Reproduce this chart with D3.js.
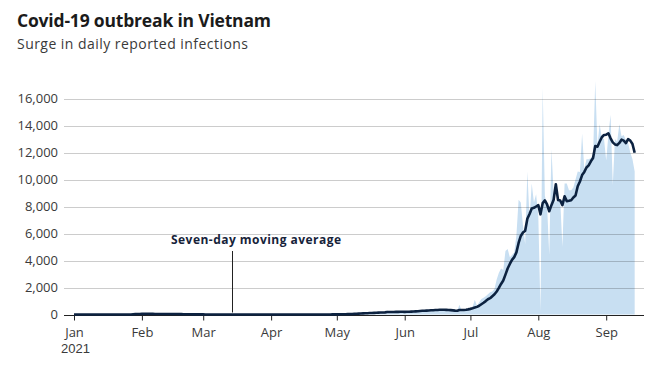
<!DOCTYPE html>
<html>
<head>
<meta charset="utf-8">
<script src="https://cdn.jsdelivr.net/npm/d3@7"></script>
<style>
  body { margin: 0; background: #fff; }
  svg { display: block; font-family: "Open Sans", "Noto Sans", sans-serif; }
</style>
</head>
<body>
<svg id="chart" width="649" height="370"></svg>
<script>
// Daily reported infections, Jan 1 - Sep 14 2021
var jan = [1,2,0,3,2,1,5,2,1,0,2,3,1,1,2,1,3,0,1,2,1,1,2,3,1,2,2,84,75,50,40];
var feb = [35,40,50,30,45,35,40,25,30,55,40,35,30,20,15,60,30,20,15,10,12,8,10,5,6,9,4,3];
var mar = [5,3,2,6,4,3,2,4,3,5,2,3,1,4,2,3,5,2,4,3,6,2,3,4,5,2,3,4,1,2,3];
var apr = [2,5,3,2,4,6,3,2,5,4,3,2,4,6,3,2,5,4,3,5,2,4,3,2,5,8,6,4,10,12];
var may = [10,15,20,25,30,45,55,60,70,80,90,95,110,105,120,130,140,135,150,160,155,165,170,300,180,160,175,190,185,200,210];
var jun = [190,230,250,240,270,260,280,300,310,290,320,330,350,340,360,370,380,340,330,300,290,260,250,240,270,720,280,330,380,440];
var jul = [500,560,1090,650,900,1150,1250,1350,1500,1650,1700,1900,2600,3100,3400,3300,4700,4850,4250,4400,4600,5850,8500,8300,6600,5200,10600,7100,9700,8300,8900];
var aug = [7300,200,16800,8800,8050,4400,12250,9000,8300,8600,8500,5000,9700,9700,9200,9200,9400,10000,10600,10550,13400,10800,11500,11500,11600,11800,17300,12500,14100,13100,13000];
var sep = [11400,13300,14800,9600,13000,12800,14100,13200,13300,12900,12700,12000,11500,10600];

// Seven-day moving average
var janAvg = [1,1,1,2,2,2,2,2,2,2,2,2,2,2,2,2,2,2,2,2,2,2,2,2,2,2,2,14,25,32,38];
var febAvg = [43,48,53,51,46,43,41,40,39,40,39,38,36,34,30,35,34,30,26,21,20,19,14,11,10,10,8,6];
var marAvg = [6,5,5,5,4,4,3,4,4,4,3,3,3,3,3,3,3,3,3,3,3,4,4,4,4,3,3,3,3,3,3];
var aprAvg = [3,3,3,3,3,3,4,4,4,4,4,4,4,4,4,4,4,4,4,4,4,4,4,4,4,5,5,5,6,7];
var mayAvg = [9,11,13,16,20,26,31,39,47,55,64,72,82,90,98,106,115,122,130,138,144,151,156,181,184,185,189,194,198,204,207];
var junAvg = [195,200,208,215,225,235,246,261,273,279,290,299,311,320,329,337,350,353,353,346,339,324,307,287,277,333,330,336,353,380];
var julAvg = [417,459,511,564,646,756,871,993,1127,1207,1357,1500,1707,1971,2264,2521,2957,3407,3743,4050,4250,4600,5300,5820,6070,6210,7090,7450,7850,7900,8000];
var augAvg = [8100,7420,8250,8450,8150,7650,8100,8500,9650,8480,8440,8100,8760,8400,8420,8460,8670,8820,9500,9850,10330,10560,10890,11050,11350,11590,12480,12430,12800,13130,13300];
var sepAvg = [13320,13420,13050,12750,12600,12550,12710,12950,12880,12700,12990,12880,12630,11980];

var yTicks = [0, 2000, 4000, 6000, 8000, 10000, 12000, 14000, 16000];
var monthLabels = ["Jan", "Feb", "Mar", "Apr", "May", "Jun", "Jul", "Aug", "Sep"];
var yearLabel = "2021";
var annotationText = "Seven-day moving average";
var annotationDate = new Date(2021, 2, 14);

var daily = [].concat(jan, feb, mar, apr, may, jun, jul, aug, sep);
var average = [].concat(janAvg, febAvg, marAvg, aprAvg, mayAvg, junAvg, julAvg, augAvg, sepAvg);
var start = new Date(2021, 0, 1);
var data = daily.map(function(v, i) {
  return {date: d3.timeDay.offset(start, i), cases: v, avg: average[i]};
});

var svg = d3.select("#chart");
var left = 64, right = 644;

var x = d3.scaleTime()
  .domain([new Date(2021, 0, 1), new Date(2021, 8, 1)])
  .range([74, 606.2]);
var y = d3.scaleLinear()
  .domain([0, 16000])
  .range([314.5, 98.5]);

// nudge a text to the width it has in the original
function fitWidth(sel, w) {
  sel.each(function() {
    var n = this.textContent.length;
    var cur = this.getComputedTextLength();
    if (n > 1) d3.select(this).attr("letter-spacing", (w - cur) / (n - 1));
  });
}

// Title
svg.append("text")
  .attr("x", 17).attr("y", 27)
  .attr("font-size", 17.5).attr("font-weight", 700)
  .attr("fill", "#1b1b1b")
  .text("Covid-19 outbreak in Vietnam")
  .call(fitWidth, 254);
svg.append("text")
  .attr("x", 17).attr("y", 48.5)
  .attr("font-size", 14)
  .attr("fill", "#3a3a3a")
  .text("Surge in daily reported infections")
  .call(fitWidth, 231);

// Daily area
var area = d3.area()
  .x(function(d) { return x(d.date); })
  .y0(y(0))
  .y1(function(d) { return y(d.cases); });
svg.append("path")
  .datum(data)
  .attr("fill", "#c8dff2")
  .attr("d", area);

// Gridlines
svg.append("g")
  .selectAll("line")
  .data(yTicks.filter(function(t) { return t > 0; }))
  .enter()
  .append("line")
    .attr("x1", left).attr("x2", right)
    .attr("y1", function(d) { return Math.round(y(d)) + 0.5; })
    .attr("y2", function(d) { return Math.round(y(d)) + 0.5; })
    .attr("stroke", "rgba(0,0,0,0.2)")
    .attr("stroke-width", 1);

// Y labels
svg.append("g")
  .selectAll("text")
  .data(yTicks)
  .enter()
  .append("text")
    .attr("x", 58)
    .attr("y", function(d) { return y(d); })
    .attr("dy", "0.35em")
    .attr("text-anchor", "end")
    .attr("font-size", 13)
    .attr("fill", "#3a3a3a")
    .text(d3.format(","));

// X axis
var xAxis = d3.axisBottom(x)
  .ticks(d3.timeMonth.every(1))
  .tickSize(5)
  .tickSizeOuter(0)
  .tickFormat(function(d, i) { return monthLabels[i]; });
var gx = svg.append("g")
  .attr("transform", "translate(0," + (Math.round(y(0)) + 0.5) + ")")
  .call(xAxis);
gx.select(".domain").remove();
gx.selectAll(".tick line").attr("stroke", "#222");
gx.selectAll(".tick text")
  .attr("y", 21)
  .attr("dy", 0)
  .attr("font-family", "'Open Sans', 'Noto Sans', sans-serif")
  .attr("font-size", 13)
  .attr("fill", "#3a3a3a");
gx.append("line")
  .attr("x1", left).attr("x2", right)
  .attr("y1", 0).attr("y2", 0)
  .attr("stroke", "#222");
gx.append("text")
  .attr("x", x(start) + 1.5)
  .attr("y", 37)
  .attr("text-anchor", "middle")
  .attr("font-size", 13)
  .attr("fill", "#3a3a3a")
  .text(yearLabel);

// Seven-day average line
var line = d3.line()
  .x(function(d) { return x(d.date); })
  .y(function(d) { return y(d.avg); });
svg.append("path")
  .datum(data)
  .attr("fill", "none")
  .attr("stroke", "#0c2240")
  .attr("stroke-width", 2.6)
  .attr("stroke-linejoin", "round")
  .attr("d", line);

// Annotation
var ax = Math.round(x(annotationDate)) + 0.5;
svg.append("line")
  .attr("x1", ax).attr("x2", ax)
  .attr("y1", 251).attr("y2", y(0) - 2)
  .attr("stroke", "#222");
svg.append("text")
  .attr("x", 171).attr("y", 243.5)
  .attr("font-size", 12).attr("font-weight", 700)
  .attr("fill", "#16233a")
  .text(annotationText)
  .call(fitWidth, 170);
</script>
</body>
</html>
